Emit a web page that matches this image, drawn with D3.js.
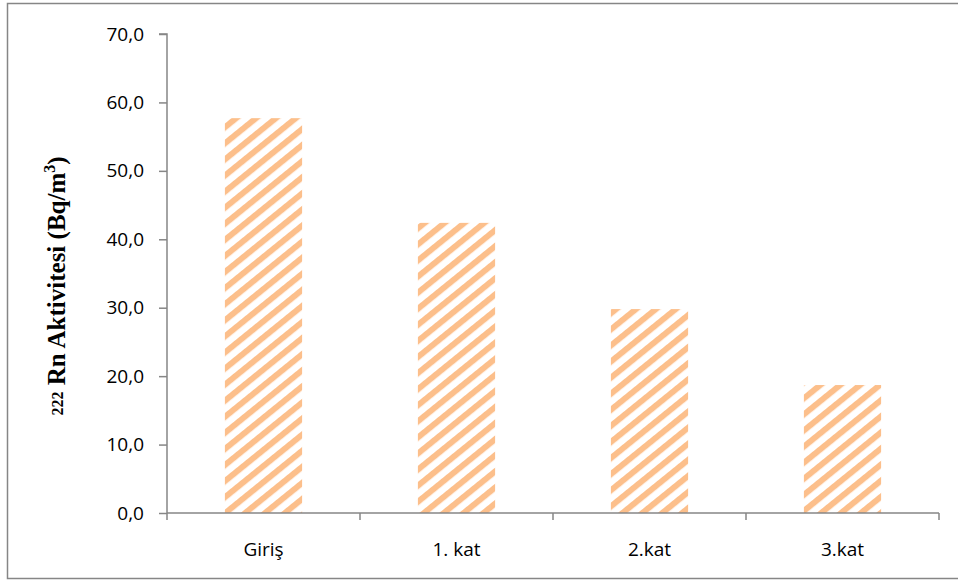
<!DOCTYPE html>
<html>
<head>
<meta charset="utf-8">
<script src="https://cdn.jsdelivr.net/npm/d3@7/dist/d3.min.js"></script>
<style>
  html, body { margin: 0; padding: 0; background: #fff; }
  svg { display: block; }
</style>
</head>
<body>
<svg id="chart" width="958" height="580"></svg>
<script>
// Radon-222 activity by floor
const categories = ["Giriş", "1. kat", "2.kat", "3.kat"];
const values = [57.7, 42.4, 29.8, 18.7];
const yTicks = [0, 10, 20, 30, 40, 50, 60, 70];

const svg = d3.select("#chart");
const plot = { left: 167, right: 939, top: 34, bottom: 513 };
const grey = "#868686";
const stripe = "#fcbf8b";
const sans = "'Open Sans', 'Noto Sans', sans-serif";

// outer frame
svg.append("rect")
  .attr("x", 7.5).attr("y", 3.5)
  .attr("width", 960).attr("height", 575)
  .attr("fill", "none").attr("stroke", grey).attr("stroke-width", 1.5);

// diagonal hatch for the bars
const defs = svg.append("defs");
const pat = defs.append("pattern")
  .attr("id", "hatch")
  .attr("patternUnits", "userSpaceOnUse")
  .attr("width", 10).attr("height", 12.5)
  .attr("patternTransform", "rotate(-39)");
pat.append("rect").attr("x", 0).attr("y", 0).attr("width", 10).attr("height", 6).attr("fill", stripe);

const x = d3.scaleBand()
  .domain(categories)
  .range([plot.left, plot.right])
  .paddingInner(0.6).paddingOuter(0.3);

const y = d3.scaleLinear()
  .domain([0, 70])
  .range([plot.bottom, plot.top]);

// bars
svg.append("g").selectAll("rect")
  .data(categories)
  .join("rect")
  .attr("x", d => x(d))
  .attr("width", x.bandwidth())
  .attr("y", (d, i) => y(values[i]))
  .attr("height", (d, i) => y(0) - y(values[i]))
  .attr("fill", "url(#hatch)");

// y axis
const yAxis = d3.axisLeft(y)
  .tickValues(yTicks)
  .tickFormat(d => d3.format(".1f")(d).replace(".", ","))
  .tickSize(8).tickPadding(15);
const gy = svg.append("g").attr("transform", `translate(${plot.left},0)`).call(yAxis);
gy.select(".domain").attr("stroke", grey).attr("stroke-width", 1.5).attr("d", `M-8,${y(70)}H0V${y(0)}`);
gy.selectAll(".tick line").attr("stroke", grey).attr("stroke-width", 1.5);
gy.selectAll(".tick text")
  .attr("fill", "#000")
  .style("font-family", sans)
  .style("font-size", "19px");

// x axis with category boundary ticks
const gx = svg.append("g").attr("transform", `translate(0,${y(0)})`);
gx.append("line")
  .attr("x1", plot.left).attr("x2", plot.right)
  .attr("stroke", grey).attr("stroke-width", 1.5);
const bounds = d3.range(categories.length + 1).map(i => plot.left + (plot.right - plot.left) * i / categories.length);
gx.selectAll("line.b")
  .data(bounds)
  .join("line")
  .attr("class", "b")
  .attr("x1", d => d).attr("x2", d => d)
  .attr("y1", 0).attr("y2", 7)
  .attr("stroke", grey).attr("stroke-width", 1.5);
gx.selectAll("text")
  .data(categories)
  .join("text")
  .attr("x", d => x(d) + x.bandwidth() / 2)
  .attr("y", 43)
  .attr("text-anchor", "middle")
  .style("font-family", sans)
  .style("font-size", "19px")
  .text(d => d);

// y axis title
const title = svg.append("text")
  .attr("transform", `translate(65,286) rotate(-90)`)
  .attr("text-anchor", "middle")
  .style("font-family", "'Liberation Serif', 'Times New Roman', serif")
  .style("font-weight", "bold")
  .style("font-size", "25px");
title.append("tspan").style("font-size", "16px").attr("dy", -2).text("222");
title.append("tspan").style("font-size", "25px").attr("dy", 2).text(" Rn Aktivitesi (Bq/m");
title.append("tspan").style("font-size", "16px").attr("dy", -10).text("3");
title.append("tspan").style("font-size", "25px").attr("dy", 10).text(")");
</script>
</body>
</html>
